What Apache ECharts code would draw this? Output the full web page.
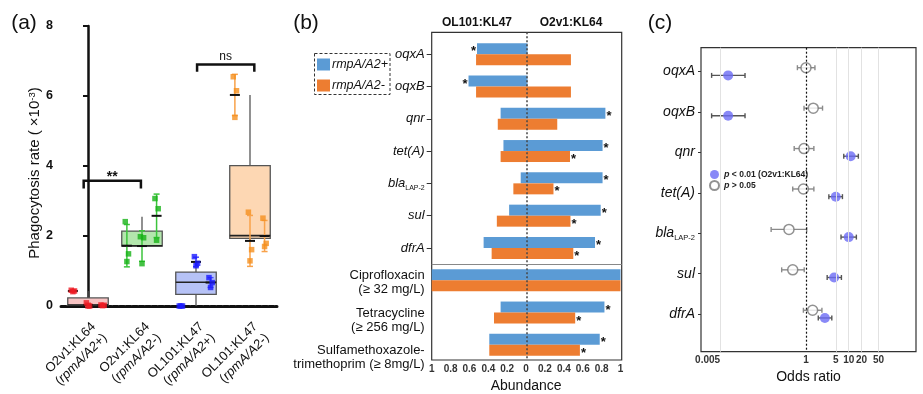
<!DOCTYPE html>
<html><head><meta charset="utf-8">
<script src="https://cdn.jsdelivr.net/npm/echarts@6/dist/echarts.min.js"></script>
<style>html,body{margin:0;padding:0;background:#fff}#c{width:923px;height:394px}</style>
</head><body><div id="c"></div>
<script>
// ---------- Panel (a): phagocytosis ----------
const strainA = ['O2v1:KL64', 'O2v1:KL64', 'OL101:KL47', 'OL101:KL47'];
const genoA = ['rpmA/A2+', 'rpmA/A2-', 'rpmA/A2+', 'rpmA/A2-'];
// box statistics [min, Q1, median, Q3, max]
const boxA = [
  [0.02, 0.025, 0.03, 0.23, 0.43],
  [1.71, 1.71, 1.72, 2.14, 2.55],
  [0.00, 0.33, 0.68, 0.97, 1.26],
  [1.86, 1.93, 2.01, 4.01, 6.03]
];
// replicate points: 3 experiments x 3 points per strain
const repsA = [
  [[0.45, 0.43, 0.41], [0.09, 0.00, 0.00], [0.03, 0.02, 0.01]],
  [[2.41, 1.49, 1.27], [1.98, 1.95, 1.21], [3.07, 2.78, 1.88]],
  [[0.00, 0.00, 0.00], [1.41, 1.22, 1.15], [0.81, 0.67, 0.53]],
  [[6.55, 6.15, 5.39], [2.68, 1.61, 1.29], [2.51, 1.79, 1.70]]
];
const bracketsA = [
  {x0: -0.08, x1: 0.98, y: 3.58, leg: 0.22, text: '**'},
  {x0: 2.02, x1: 3.08, y: 6.90, leg: 0.21, text: 'ns'}
];
const yTicksA = [0, 2, 4, 6, 8];

// ---------- Panel (b): abundance ----------
const genesB = ['oqxA', 'oqxB', 'qnr', 'tet(A)', 'blaLAP-2', 'sul', 'dfrA'];
const drugsB = ['Ciprofloxacin\n(≥ 32 mg/L)', 'Tetracycline\n(≥ 256 mg/L)', 'Sulfamethoxazole-\ntrimethoprim (≥ 8mg/L)'];
const plusKL47 = [0.52, 0.61, 0.27, 0.24, 0.057, 0.18, 0.45, 1.0, 0.27, 0.39];
const plusKL64 = [0.015, 0.015, 0.84, 0.81, 0.81, 0.79, 0.73, 1.0, 0.83, 0.78];
const minusKL47 = [0.53, 0.53, 0.30, 0.27, 0.135, 0.31, 0.365, 1.0, 0.34, 0.39];
const minusKL64 = [0.475, 0.475, 0.33, 0.465, 0.29, 0.47, 0.50, 1.0, 0.52, 0.57];
const sigPlusKL47 = [1, 1, 0, 0, 0, 0, 0, 0, 0, 0];
const sigPlusKL64 = [0, 0, 1, 1, 1, 1, 1, 0, 1, 1];
const sigMinusKL47 = [0, 0, 0, 0, 0, 0, 0, 0, 0, 0];
const sigMinusKL64 = [0, 0, 0, 1, 1, 1, 1, 0, 1, 1];
const xTicksB = [-1, -0.8, -0.6, -0.4, -0.2, 0, 0.2, 0.4, 0.6, 0.8, 1];

// ---------- Panel (c): odds ratios ----------
const genesC = ['oqxA', 'oqxB', 'qnr', 'tet(A)', 'blaLAP-2', 'sul', 'dfrA'];
const orKL64 = [0.0151, 0.0151, 11.1, 4.98, 10.0, 4.56, 2.77];
const loKL64 = [0.0062, 0.0062, 7.65, 3.43, 6.6, 3.13, 1.94];
const hiKL64 = [0.0375, 0.0375, 16.8, 7.13, 15.1, 6.75, 4.02];
const orKL47 = [1.0, 1.48, 0.90, 0.87, 0.40, 0.49, 1.43];
const loKL47 = [0.63, 0.90, 0.53, 0.49, 0.153, 0.27, 0.87];
const hiKL47 = [1.62, 2.44, 1.53, 1.53, 1.04, 0.91, 2.36];
const xTicksC = [0.005, 1, 5, 10, 20, 50];
const gridLinesC = [0.005, 5, 10, 20, 50];

// ---------- styles ----------
const FONT = 'Liberation Sans, Arial, Helvetica, sans-serif';
const ptColor = ['#ee1c24', '#17b317', '#1a1aff', '#f5901e'];
const errColor = ['#f45a5a', '#3cc43c', '#4a4aff', '#f8a24a'];
const boxFill = ['#f7c3c3', '#b3e6ad', '#b6c2f6', '#fdd7b3'];
const subOff = [-0.28, 0, 0.27];
const jit = [-0.03, 0.03, 0];
const BLUE = '#5b9bd5', ORANGE = '#ed7d31';
const rowOff = 0.095;
const drugLabelShift = [4, 15, 26]; // spacer heights that push the drug labels down as in the figure

// derived (a) series data
const errData = [], ptData = [];
repsA.forEach((groups, c) => {
  groups.forEach((pts, g) => {
    const m = pts.reduce((s, v) => s + v, 0) / pts.length;
    const sd = Math.sqrt(pts.reduce((s, v) => s + (v - m) * (v - m), 0) / (pts.length - 1));
    errData.push([c + subOff[g], Math.max(0, m - sd), m + sd, m, c]);
    pts.forEach((v, k) => ptData.push({value: [c + subOff[g] + jit[k], v], itemStyle: {color: ptColor[c]}}));
  });
});

const catsB = genesB.concat(drugsB);
function geneRich(v) {
  if (v === 'blaLAP-2') return '{g|bla}{s|LAP-2}';
  return '{g|' + v + '}';
}
function drugRich(v, k) {
  return '{sp' + k + '| }\n' + v.split('\n').map(s => '{d|' + s + '}').join('\n');
}

const chart = echarts.init(document.getElementById('c'), null, {renderer: 'canvas'});
const option = {
  animation: false,
  textStyle: {fontFamily: FONT},
  graphic: [
    {type: 'text', x: 24, y: 23, style: {text: '(a)', align: 'center', verticalAlign: 'middle', fontSize: 21, fontFamily: FONT, fill: '#111'}},
    {type: 'text', x: 306, y: 23, style: {text: '(b)', align: 'center', verticalAlign: 'middle', fontSize: 21, fontFamily: FONT, fill: '#111'}},
    {type: 'text', x: 660, y: 23, style: {text: '(c)', align: 'center', verticalAlign: 'middle', fontSize: 21, fontFamily: FONT, fill: '#111'}},
    {type: 'text', x: 477, y: 23, style: {text: 'OL101:KL47', align: 'center', verticalAlign: 'middle', fontSize: 12, fontWeight: 'bold', fontFamily: FONT, fill: '#111'}},
    {type: 'text', x: 571, y: 23, style: {text: 'O2v1:KL64', align: 'center', verticalAlign: 'middle', fontSize: 12, fontWeight: 'bold', fontFamily: FONT, fill: '#111'}},
    {type: 'rect', shape: {x: 314.5, y: 53.5, width: 75.5, height: 41}, style: {fill: 'none', stroke: '#333', lineWidth: 1, lineDash: [3, 2]}}
  ],
  legend: [
    {data: ['rmpA/A2+', 'rmpA/A2-'], orient: 'vertical', left: 317, top: 58, padding: 0, itemGap: 8,
     itemWidth: 13, itemHeight: 12, icon: 'rect',
     textStyle: {fontSize: 12.5, fontStyle: 'italic', color: '#111', padding: [0, 0, 0, -3]}},
    {data: ['p < 0.01 (O2v1:KL64)', 'p > 0.05'], orient: 'vertical', left: 709, top: 170, padding: 0, itemGap: 1,
     itemWidth: 9, itemHeight: 9,
     formatter: n => '{i|p}{t|' + n.slice(1) + '}',
     textStyle: {color: '#222', rich: {i: {fontStyle: 'italic', fontWeight: 'bold', fontSize: 9}, t: {fontWeight: 'bold', fontSize: 8.5}}}}
  ],
  grid: [
    {left: 61, top: 26, width: 216, height: 280, outerBoundsMode: 'none', containLabel: false},
    {left: 431.7, top: 38, width: 188.8, height: 323, outerBoundsMode: 'none', containLabel: false},
    {left: 431.7, top: 32.3, width: 190, height: 327.7, outerBoundsMode: 'none', containLabel: false,
     show: true, borderColor: '#333', borderWidth: 1.2, backgroundColor: 'transparent'},
    {left: 701, top: 47.7, width: 215, height: 304, outerBoundsMode: 'none', containLabel: false,
     show: true, borderColor: '#333', borderWidth: 1.2, backgroundColor: 'transparent'}
  ],
  xAxis: [
    {type: 'category', gridIndex: 0, data: strainA.map((s, i) => s + '|' + genoA[i]),
     axisLine: {lineStyle: {color: '#111', width: 3, type: [5, 1.5]}},
     axisTick: {alignWithLabel: true, length: 6, lineStyle: {color: '#111', width: 2}},
     axisLabel: {interval: 0, rotate: 45, margin: 13, verticalAlign: 'top', fontSize: 13, color: '#111',
       formatter: v => { const p = v.split('|'); return '{n|' + p[0] + '}\n{n|(}{i|' + p[1] + '}{n|)}'; },
       rich: {n: {fontSize: 13, color: '#111', lineHeight: 16}, i: {fontSize: 13, fontStyle: 'italic', color: '#111', lineHeight: 16}}}},
    {type: 'value', gridIndex: 0, min: -0.5, max: 3.5, show: false},
    {type: 'value', gridIndex: 1, min: -1, max: 1, interval: 0.2,
     axisLine: {show: false}, axisTick: {show: false}, splitLine: {show: false},
     axisLabel: {margin: 3, fontSize: 10, color: '#333', fontWeight: 'bold', formatter: v => String(+Math.abs(v).toFixed(1))},
     name: 'Abundance', nameLocation: 'middle', nameGap: 14, nameTextStyle: {fontSize: 14, color: '#111', verticalAlign: 'top'}},
    {type: 'value', gridIndex: 2, min: -1, max: 1, show: false},
    {type: 'log', logBase: 10, gridIndex: 3, min: 0.0035, max: 375,
     axisLine: {show: false}, axisTick: {show: false}, splitLine: {show: false}, minorTick: {show: false},
     axisLabel: {customValues: xTicksC, margin: 4, fontSize: 10, color: '#333', fontWeight: 'bold', formatter: v => String(+(+v).toPrecision(3))},
     name: 'Odds ratio', nameLocation: 'middle', nameGap: 17, nameTextStyle: {fontSize: 14, color: '#111', verticalAlign: 'top'}}
  ],
  yAxis: [
    {type: 'value', gridIndex: 0, min: 0, max: 8, interval: 2,
     axisLine: {show: true, lineStyle: {color: '#111', width: 2.5}},
     axisTick: {show: true, length: 5, lineStyle: {color: '#111', width: 2}},
     splitLine: {show: false},
     axisLabel: {margin: 8, fontSize: 12.5, fontWeight: 'bold', color: '#111'},
     name: 'Phagocytosis rate ( ×10{sup|-3})', nameLocation: 'middle', nameGap: 18, nameRotate: 90,
     nameTextStyle: {fontSize: 15, color: '#111', padding: [0, 14, 0, 0], rich: {sup: {fontSize: 9.5, verticalAlign: 'top', color: '#111'}}}},
    {type: 'category', gridIndex: 1, inverse: true, data: catsB,
     axisLine: {show: false, onZero: false},
     axisTick: {show: true, length: 5, alignWithLabel: true, interval: (i) => i < genesB.length, lineStyle: {color: '#333'}},
     axisLabel: {interval: 0, margin: 7, color: '#111',
       formatter: (v, i) => i < genesB.length ? geneRich(v) : drugRich(v, i - genesB.length),
       rich: {g: {fontSize: 13, fontStyle: 'italic', color: '#111', lineHeight: 16},
              s: {fontSize: 7, color: '#111', verticalAlign: 'bottom', lineHeight: 16},
              d: {fontSize: 13, color: '#111', lineHeight: 14, align: 'right'},
              sp0: {fontSize: 1, lineHeight: drugLabelShift[0]},
              sp1: {fontSize: 1, lineHeight: drugLabelShift[1]},
              sp2: {fontSize: 1, lineHeight: drugLabelShift[2]}}}},
    {type: 'value', gridIndex: 2, min: -0.676, max: 9.47, inverse: true, show: false},
    {type: 'value', gridIndex: 3, min: -0.59, max: 6.93, inverse: true,
     axisLine: {show: false}, splitLine: {show: false},
     axisTick: {show: true, customValues: genesC.map((g, i) => i), length: 3, lineStyle: {color: '#333'}},
     axisLabel: {customValues: genesC.map((g, i) => i), margin: 6, color: '#111',
       formatter: v => geneRich(genesC[Math.round(v)]),
       rich: {g: {fontSize: 14, fontStyle: 'italic', color: '#111', lineHeight: 17},
              s: {fontSize: 7.5, color: '#111', verticalAlign: 'bottom', lineHeight: 17}}}}
  ],
  series: [
    // ----- (a) boxes -----
    {type: 'custom', xAxisIndex: 1, yAxisIndex: 0, silent: true, z: 2,
     data: boxA.map((b, i) => [i].concat(b)), encode: {x: 0, y: [1, 2, 3, 4, 5]},
     renderItem: (params, api) => {
       const i = api.value(0);
       const c = v => api.coord([i, v]);
       const pMin = c(api.value(1)), pQ1 = c(api.value(2)), pMed = c(api.value(3)), pQ3 = c(api.value(4)), pMax = c(api.value(5));
       const hw = api.size([0.75, 0])[0] / 2, x = pMed[0];
       return {type: 'group', children: [
         {type: 'line', shape: {x1: x, y1: pQ3[1], x2: x, y2: pMax[1]}, style: {stroke: '#555', lineWidth: 1.3}},
         {type: 'line', shape: {x1: x, y1: pQ1[1], x2: x, y2: pMin[1]}, style: {stroke: '#555', lineWidth: 1.3}},
         {type: 'rect', shape: {x: x - hw, y: pQ3[1], width: 2 * hw, height: pQ1[1] - pQ3[1]}, style: {fill: boxFill[i], stroke: '#555', lineWidth: 1.3}},
         {type: 'line', shape: {x1: x - hw, y1: pMed[1], x2: x + hw, y2: pMed[1]}, style: {stroke: '#222', lineWidth: 1.6}}
       ]};
     }},
    // ----- (a) error bars & means -----
    {type: 'custom', xAxisIndex: 1, yAxisIndex: 0, silent: true, z: 3,
     data: errData, encode: {x: 0, y: [1, 2]},
     renderItem: (params, api) => {
       const x = api.value(0), c = api.value(4);
       const lo = api.coord([x, api.value(1)]), hi = api.coord([x, api.value(2)]), m = api.coord([x, api.value(3)]);
       const col = errColor[c];
       return {type: 'group', children: [
         {type: 'line', shape: {x1: lo[0], y1: lo[1], x2: hi[0], y2: hi[1]}, style: {stroke: col, lineWidth: 1.5}},
         {type: 'line', shape: {x1: lo[0] - 3, y1: lo[1], x2: lo[0] + 3, y2: lo[1]}, style: {stroke: col, lineWidth: 1.5}},
         {type: 'line', shape: {x1: hi[0] - 3, y1: hi[1], x2: hi[0] + 3, y2: hi[1]}, style: {stroke: col, lineWidth: 1.5}},
         {type: 'line', shape: {x1: m[0] - 5, y1: m[1], x2: m[0] + 5, y2: m[1]}, style: {stroke: '#111', lineWidth: 2}}
       ]};
     }},
    // ----- (a) points -----
    {type: 'scatter', xAxisIndex: 1, yAxisIndex: 0, symbol: 'rect', symbolSize: 5.5, silent: true, z: 4, clip: false, data: ptData},
    // ----- (a) significance brackets -----
    {type: 'custom', xAxisIndex: 1, yAxisIndex: 0, silent: true, z: 5,
     data: bracketsA.map(b => [b.x0, b.x1, b.y, b.leg]), encode: {x: [0, 1], y: 2},
     renderItem: (params, api) => {
       const y = api.value(2), leg = api.value(3);
       const a = api.coord([api.value(0), y - leg]), b = api.coord([api.value(0), y]);
       const c = api.coord([api.value(1), y]), d = api.coord([api.value(1), y - leg]);
       const t = bracketsA[params.dataIndex].text;
       const star = t === '**';
       return {type: 'group', children: [
         {type: 'polyline', shape: {points: [a, b, c, d]}, style: {stroke: '#111', lineWidth: 2.5, fill: 'none'}},
         {type: 'text', x: (b[0] + c[0]) / 2, y: b[1] - (star ? 4 : 8), style: {text: t, align: 'center', verticalAlign: 'middle',
           fontSize: star ? 14 : 12, fontWeight: star ? 'bold' : 'normal', fontFamily: FONT, fill: '#111'}}
       ]};
     }},
    // ----- (b) bars -----
    {name: 'rmpA/A2+', type: 'bar', xAxisIndex: 2, yAxisIndex: 1, stack: 'plus', barWidth: 11, barGap: '0%',
     itemStyle: {color: BLUE}, data: plusKL47.map(v => -v),
     label: {show: true, position: 'left', distance: 1, offset: [0, 3], fontSize: 13, fontWeight: 'bold', color: '#111',
       formatter: p => sigPlusKL47[p.dataIndex] ? '*' : ''}},
    {name: 'rmpA/A2+', type: 'bar', xAxisIndex: 2, yAxisIndex: 1, stack: 'plus', barWidth: 11, barGap: '0%',
     itemStyle: {color: BLUE}, data: plusKL64,
     label: {show: true, position: 'right', distance: 1, offset: [0, 3], fontSize: 13, fontWeight: 'bold', color: '#111',
       formatter: p => sigPlusKL64[p.dataIndex] ? '*' : ''}},
    {name: 'rmpA/A2-', type: 'bar', xAxisIndex: 2, yAxisIndex: 1, stack: 'minus', barWidth: 11, barGap: '0%',
     itemStyle: {color: ORANGE}, data: minusKL47.map(v => -v),
     label: {show: true, position: 'left', distance: 1, offset: [0, 3], fontSize: 13, fontWeight: 'bold', color: '#111',
       formatter: p => sigMinusKL47[p.dataIndex] ? '*' : ''}},
    {name: 'rmpA/A2-', type: 'bar', xAxisIndex: 2, yAxisIndex: 1, stack: 'minus', barWidth: 11, barGap: '0%',
     itemStyle: {color: ORANGE}, data: minusKL64,
     label: {show: true, position: 'right', distance: 1, offset: [0, 3], fontSize: 13, fontWeight: 'bold', color: '#111',
       formatter: p => sigMinusKL64[p.dataIndex] ? '*' : ''}},
    // ----- (b) reference lines (zero line, section separator) -----
    {type: 'scatter', xAxisIndex: 3, yAxisIndex: 2, silent: true, symbolSize: 0, data: [[0, 0]], z: 6,
     markLine: {silent: true, symbol: 'none', label: {show: false},
       data: [
         {xAxis: 0, lineStyle: {color: '#444', type: [2, 2], width: 1.5}},
         {yAxis: genesB.length - 0.5, lineStyle: {color: '#888', type: 'solid', width: 1}}
       ]}},
    // ----- (c) grid lines and reference line -----
    {type: 'scatter', xAxisIndex: 4, yAxisIndex: 3, silent: true, symbolSize: 0, data: [[1, 0]], z: 1,
     markLine: {silent: true, symbol: 'none', label: {show: false},
       data: gridLinesC.map(v => ({xAxis: v, lineStyle: {color: '#e2e2e2', type: 'solid', width: 1}}))
         .concat([{xAxis: 1, lineStyle: {color: '#111', type: [2, 2], width: 1.2}}])}},
    // ----- (c) error bars -----
    {type: 'custom', xAxisIndex: 4, yAxisIndex: 3, silent: true, z: 3,
     data: genesC.map((g, i) => [loKL47[i], hiKL47[i], i - rowOff, 0])
       .concat(genesC.map((g, i) => [loKL64[i], hiKL64[i], i + rowOff, 1])),
     encode: {x: [0, 1], y: 2},
     renderItem: (params, api) => {
       const y = api.value(2);
       const a = api.coord([api.value(0), y]), b = api.coord([api.value(1), y]);
       const col = api.value(3) ? '#555' : '#8a8a8a';
       return {type: 'group', children: [
         {type: 'line', shape: {x1: a[0], y1: a[1], x2: b[0], y2: b[1]}, style: {stroke: col, lineWidth: 1.4}},
         {type: 'line', shape: {x1: a[0], y1: a[1] - 2.5, x2: a[0], y2: a[1] + 2.5}, style: {stroke: col, lineWidth: 1.4}},
         {type: 'line', shape: {x1: b[0], y1: b[1] - 2.5, x2: b[0], y2: b[1] + 2.5}, style: {stroke: col, lineWidth: 1.4}}
       ]};
     }},
    // ----- (c) points -----
    {name: 'p > 0.05', type: 'scatter', xAxisIndex: 4, yAxisIndex: 3, symbol: 'circle', symbolSize: 10, z: 4,
     itemStyle: {color: '#fff', borderColor: '#777', borderWidth: 1.5},
     data: orKL47.map((v, i) => [v, i - rowOff])},
    {name: 'p < 0.01 (O2v1:KL64)', type: 'scatter', xAxisIndex: 4, yAxisIndex: 3, symbol: 'circle', symbolSize: 10, z: 4,
     itemStyle: {color: '#6b6bf5'},
     data: orKL64.map((v, i) => [v, i + rowOff])}
  ]
};
chart.setOption(option);
</script></body></html>
